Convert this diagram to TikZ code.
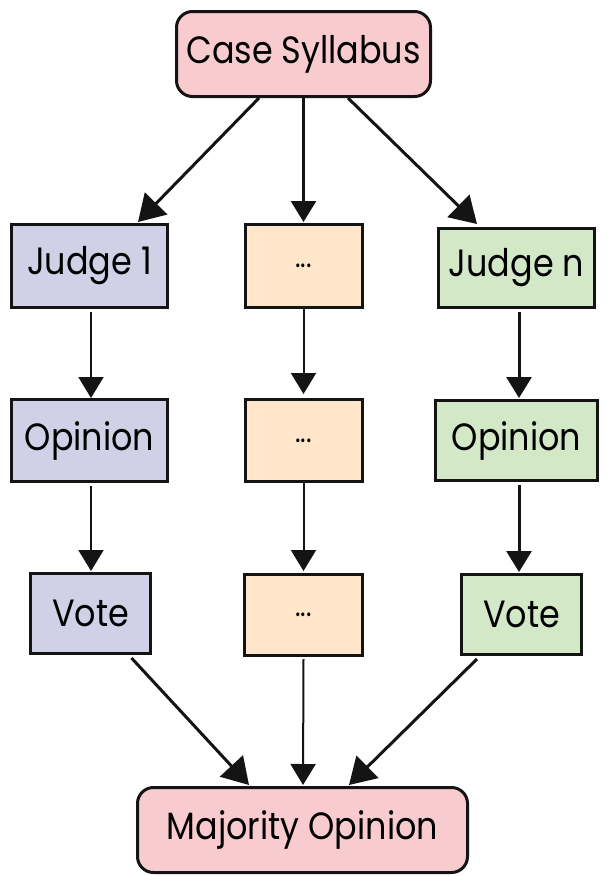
\documentclass[tikz,border=0pt]{standalone}
\usepackage{fontspec}
\setmainfont{Poppins}[FakeStretch=0.88]
\usetikzlibrary{arrows.meta,calc}
\definecolor{pinkfill}{HTML}{F8CCCF}
\definecolor{lavfill}{HTML}{D0D0E7}
\definecolor{peachfill}{HTML}{FFE6CB}
\definecolor{greenfill}{HTML}{D2E8C6}
\definecolor{edge}{HTML}{141414}
\begin{document}
\begin{tikzpicture}[x=1pt,y=-1pt,
  box/.style={draw=edge, line width=3pt, inner sep=0pt, anchor=center,
    font=\fontsize{38}{44}\selectfont},
  roundbox/.style={box, rounded corners=16pt, fill=pinkfill},
  lav/.style={box, fill=lavfill},
  peach/.style={box, fill=peachfill, font=\fontsize{30}{34}\selectfont},
  grn/.style={box, fill=greenfill},
  arr/.style={draw=edge, line width=2.5pt, -{Triangle[length=21pt,width=25pt]}},
  diag/.style={draw=edge, line width=3pt, -{Triangle[length=26pt,width=31pt]}}]
\useasboundingbox (0,0) rectangle (606,876);
\fill[white] (0,0) rectangle (606,876);

\node[roundbox, minimum width=254pt, minimum height=85pt] (case) at (303.5,54) {Case Syllabus};

\node[lav, minimum width=156pt, minimum height=83pt] (j1) at (89.5,266) {Judge 1};
\node[peach, minimum width=117pt, minimum height=83pt] (jm) at (303.5,266) {...};
\node[grn, minimum width=156pt, minimum height=79pt] (jn) at (516.5,268) {Judge n};

\node[lav, minimum width=156pt, minimum height=82pt] (o1) at (89.5,440.5) {Opinion};
\node[peach, minimum width=117pt, minimum height=82pt] (om) at (303.5,440.5) {...};
\node[grn, minimum width=162pt, minimum height=80pt] (on) at (516.5,440.5) {Opinion};

\node[lav, minimum width=120pt, minimum height=80pt] (v1) at (90.5,613.5) {Vote};
\node[peach, minimum width=118pt, minimum height=81pt] (vm) at (303.5,615) {...};
\node[grn, minimum width=120pt, minimum height=80pt] (vn) at (521.5,614.5) {Vote};

\node[roundbox, minimum width=330pt, minimum height=85pt] (maj) at (302.5,830) {Majority Opinion};

\draw[diag] ($(case.south)+(-44.5,0)$) -- ($(j1.north)+(48.5,-1)$);
\draw[arr] (case.south) -- ($(jm.north)+(0,-1)$);
\draw[diag] ($(case.south)+(44.5,0)$) -- ($(jn.north)+(-39.5,-3)$);

\draw[arr, line width=2pt] ($(j1.south)+(1.5,3)$) -- ($(o1.north)+(1.5,0)$);
\draw[arr, line width=2pt] (jm.south) -- ($(om.north)+(0,-4)$);
\draw[arr, line width=3pt] ($(jn.south)+(2.5,3)$) -- ($(on.north)+(2.5,-1)$);

\draw[arr, line width=2pt] ($(o1.south)+(1.5,3)$) -- ($(v1.north)+(0.5,-1)$);
\draw[arr, line width=2pt] (om.south) -- ($(vm.north)+(0,-2)$);
\draw[arr, line width=3pt] ($(on.south)+(2.5,3)$) -- ($(vn.north)+(-2.5,-1)$);

\draw[diag] ($(v1.south)+(41,3)$) -- ($(maj.north)+(-53.5,-1)$);
\draw[arr, line width=2pt] ($(vm.south)+(0,2)$) -- ($(maj.north)+(0.5,-1)$);
\draw[diag] ($(vn.south)+(-44.5,3)$) -- ($(maj.north)+(46.5,-1)$);
\end{tikzpicture}
\end{document}
